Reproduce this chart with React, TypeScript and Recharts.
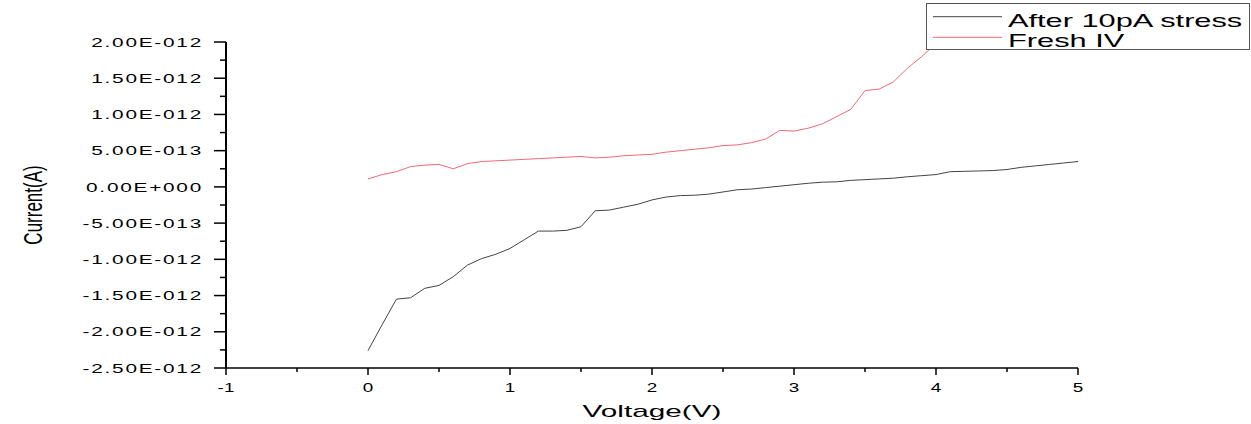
import React from "react";
import { LineChart, Line, XAxis, YAxis, Legend } from "recharts";

const voltage = [
  0, 0.1, 0.2, 0.3, 0.4, 0.5, 0.6, 0.7, 0.8, 0.9, 1.0, 1.1, 1.2, 1.3, 1.4, 1.5, 1.6, 1.7, 1.8, 1.9,
  2.0, 2.1, 2.2, 2.3, 2.4, 2.5, 2.6, 2.7, 2.8, 2.9, 3.0, 3.1, 3.2, 3.3, 3.4, 3.5, 3.6, 3.7, 3.8, 3.9,
  4.0, 4.1, 4.2, 4.3, 4.4, 4.5, 4.6, 4.7, 4.8, 4.9, 5.0,
];

// current in units of 1E-12 A
const afterStress = [
  -2.26, -1.9, -1.55, -1.53, -1.4, -1.36, -1.24, -1.08, -0.99, -0.93, -0.85, -0.73, -0.61, -0.61,
  -0.6, -0.55, -0.33, -0.32, -0.28, -0.24, -0.18, -0.14, -0.12, -0.115, -0.1, -0.07, -0.04, -0.03,
  -0.01, 0.01, 0.03, 0.05, 0.065, 0.07, 0.09, 0.1, 0.11, 0.12, 0.14, 0.155, 0.17, 0.21, 0.215, 0.22,
  0.225, 0.24, 0.27, 0.29, 0.31, 0.33, 0.35,
];

const freshIV = [
  0.11, 0.17, 0.21, 0.28, 0.3, 0.31, 0.25, 0.32, 0.35, 0.36, 0.37, 0.38, 0.39, 0.4, 0.41, 0.42, 0.4,
  0.41, 0.43, 0.44, 0.45, 0.48, 0.5, 0.52, 0.54, 0.57, 0.58, 0.61, 0.66, 0.78, 0.77, 0.81, 0.87,
  0.97, 1.07, 1.33, 1.35, 1.45, 1.64, 1.8, 1.98,
];

const xMajorTicks = [-1, 0, 1, 2, 3, 4, 5];
const xMinorTicks = [-0.5, 0.5, 1.5, 2.5, 3.5, 4.5];
const xTickLabels = ["-1", "0", "1", "2", "3", "4", "5"];

const yMajorTicks = [-2.5, -2, -1.5, -1, -0.5, 0, 0.5, 1, 1.5, 2];
const yMinorTicks = [-2.25, -1.75, -1.25, -0.75, -0.25, 0.25, 0.75, 1.25, 1.75];
const yTickLabels = [
  "-2.50E-012", "-2.00E-012", "-1.50E-012", "-1.00E-012", "-5.00E-013",
  "0.00E+000", "5.00E-013", "1.00E-012", "1.50E-012", "2.00E-012",
];

const data = voltage.map((v, i) => ({ v, after: afterStress[i], fresh: freshIV[i] }));

const FONT = "'Liberation Sans', Arial, sans-serif";

const majorIndex = (list: number[], value: number) =>
  list.findIndex((t) => Math.abs(t - value) < 1e-9);

const XTick = (props: any) => {
  const { x, y, payload } = props;
  const idx = majorIndex(xMajorTicks, payload.value);
  const major = idx >= 0;
  return (
    <g>
      <line x1={x} x2={x} y1={y} y2={y + (major ? 7 : 4)} stroke="#000" strokeWidth={1.5} />
      {major && (
        <text
          transform={`translate(${x},${y + 24}) scale(1.45,1)`}
          textAnchor="middle"
          fontSize={13}
          fontFamily={FONT}
          fill="#000"
        >
          {xTickLabels[idx]}
        </text>
      )}
    </g>
  );
};

const YTick = (props: any) => {
  const { x, y, payload } = props;
  const idx = majorIndex(yMajorTicks, payload.value);
  const major = idx >= 0;
  return (
    <g>
      <line x1={x} x2={x - (major ? 12 : 6)} y1={y} y2={y} stroke="#000" strokeWidth={1.5} />
      {major && (
        <text
          transform={`translate(${x - 23},${y + 4.7}) scale(1.6,1)`}
          textAnchor="end"
          fontSize={13}
          letterSpacing={1.1}
          fontFamily={FONT}
          fill="#000"
        >
          {yTickLabels[idx]}
        </text>
      )}
    </g>
  );
};

const XLabel = (props: any) => {
  const vb = props.viewBox;
  return (
    <text
      transform={`translate(${vb.x + vb.width / 2},${vb.y + 49}) scale(1.75,1)`}
      textAnchor="middle"
      fontSize={17}
      fontFamily={FONT}
      fill="#000"
    >
      Voltage(V)
    </text>
  );
};

const YLabel = (props: any) => {
  const vb = props.viewBox;
  return (
    <text
      transform={`translate(${vb.x + 42},${vb.y + vb.height / 2}) scale(1.55,1) rotate(-90)`}
      textAnchor="middle"
      fontSize={17}
      fontFamily={FONT}
      fill="#000"
    >
      Current(A)
    </text>
  );
};

const renderLegend = (props: any) => {
  const payload = props.payload || [];
  return (
    <svg width={324} height={47} style={{ display: "block" }}>
      <rect x={0.5} y={0.5} width={323} height={46} fill="#fff" stroke="#555" strokeWidth={1} />
      {payload.map((p: any, i: number) => (
        <g key={i}>
          <line x1={7} x2={76} y1={13.7 + i * 20.6} y2={13.7 + i * 20.6} stroke={p.color} strokeWidth={1} />
          <text
            transform={`translate(82,${23.7 + i * 20.3}) scale(1.62,1)`}
            fontSize={19}
            fontFamily={FONT}
            fill="#000"
          >
            {p.value}
          </text>
        </g>
      ))}
    </svg>
  );
};

export default function App() {
  return (
    <div style={{ position: "absolute", left: 0, top: 0, width: 1251, height: 424, background: "#fff" }}>
      <LineChart
        width={1251}
        height={424}
        data={data}
        margin={{ top: 42, right: 173, bottom: 0, left: 0 }}
      >
        <XAxis
          type="number"
          dataKey="v"
          domain={[-1, 5]}
          ticks={[...xMajorTicks, ...xMinorTicks].sort((a, b) => a - b)}
          interval={0}
          tickSize={0}
          tickMargin={0}
          tickLine={false}
          axisLine={{ stroke: "#000", strokeWidth: 1.5 }}
          tick={XTick}
          height={56}
          allowDataOverflow
          label={{ content: XLabel }}
        />
        <YAxis
          type="number"
          domain={[-2.5, 2]}
          ticks={[...yMajorTicks, ...yMinorTicks].sort((a, b) => a - b)}
          interval={0}
          tickSize={0}
          tickMargin={0}
          tickLine={false}
          axisLine={{ stroke: "#000", strokeWidth: 2 }}
          tick={YTick}
          width={226}
          allowDataOverflow
          label={{ content: YLabel }}
        />
        <Legend
          layout="horizontal"
          verticalAlign="middle"
          align="center"
          wrapperStyle={{ position: "absolute", top: 3, left: 926, width: 324, height: 47 }}
          content={renderLegend}
        />
        <Line
          type="linear"
          dataKey="after"
          name="After 10pA stress"
          stroke="#444"
          strokeWidth={1}
          dot={false}
          isAnimationActive={false}
        />
        <Line
          type="linear"
          dataKey="fresh"
          name="Fresh IV"
          stroke="#ee6a78"
          strokeWidth={1}
          dot={false}
          isAnimationActive={false}
        />
      </LineChart>
    </div>
  );
}
